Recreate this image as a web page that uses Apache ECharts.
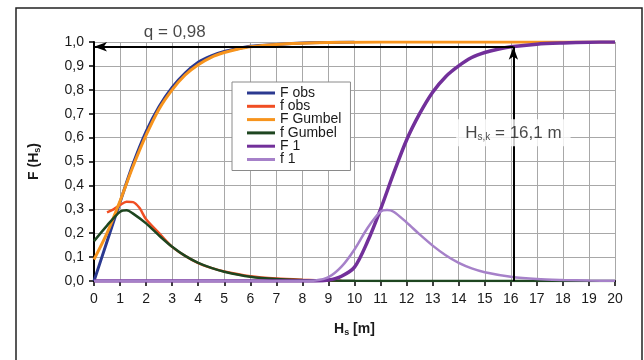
<!DOCTYPE html>
<html>
<head>
<meta charset="utf-8">
<script src="https://cdn.jsdelivr.net/npm/echarts@6/dist/echarts.min.js"></script>
<style>
  html, body { margin: 0; padding: 0; background: #ffffff; }
  #chart { width: 644px; height: 360px; }
</style>
</head>
<body>
<div id="chart"></div>
<script>
// Wave height H_s [m] and distribution values for each curve
const hObs  = [0, 0.5, 1, 1.5, 2, 2.5, 3, 3.5, 4, 4.5, 5, 5.5, 6, 7, 8, 9, 10];
const FObs  = [0, 0.165, 0.33, 0.49, 0.625, 0.73, 0.81, 0.87, 0.915, 0.942, 0.96, 0.972, 0.982, 0.99, 0.996, 0.998, 1.0];

const hObsPdf = [0.5, 0.75, 1, 1.25, 1.5, 1.75, 2, 2.5, 3, 3.5, 4, 4.5, 5, 6, 7, 8, 9, 9.5];
const fObs    = [0.287, 0.3, 0.318, 0.332, 0.33, 0.305, 0.258, 0.2, 0.143, 0.105, 0.075, 0.055, 0.04, 0.02, 0.01, 0.005, 0.002, 0.001];

const hGum = [0, 0.5, 1, 1.5, 2, 2.5, 3, 3.5, 4, 4.5, 5, 5.5, 6, 7, 8, 9, 10, 12, 14, 16, 18, 20];
const FGum = [0.09, 0.2, 0.335, 0.48, 0.61, 0.72, 0.8, 0.862, 0.905, 0.936, 0.956, 0.97, 0.98, 0.99, 0.995, 0.998, 0.999, 1, 1, 1, 1, 1];

const hGumPdf = [0, 0.5, 1, 1.25, 1.5, 2, 2.5, 3, 3.5, 4, 4.5, 5, 6, 7, 8, 9, 10, 12, 14, 16, 18, 20];
const fGum    = [0.167, 0.232, 0.29, 0.296, 0.282, 0.241, 0.19, 0.143, 0.105, 0.076, 0.055, 0.039, 0.018, 0.008, 0.004, 0.002, 0.001, 0, 0, 0, 0, 0];

const h1 = [0, 2, 4, 6, 8, 8.5, 9, 9.5, 10, 10.5, 11, 11.5, 12, 12.5, 13, 13.5, 14, 14.5, 15, 15.5, 16, 17, 18, 19, 20];
const F1 = [0, 0, 0, 0, 0, 0, 0.004, 0.02, 0.058, 0.165, 0.3, 0.45, 0.59, 0.7, 0.79, 0.855, 0.9, 0.935, 0.956, 0.97, 0.98, 0.991, 0.996, 0.999, 1.0];

const h1Pdf = [0, 2, 4, 6, 8, 8.5, 9, 9.5, 10, 10.5, 11, 11.25, 11.5, 12, 12.5, 13, 13.5, 14, 14.5, 15, 16, 17, 18, 19, 20];
const f1    = [0, 0, 0, 0, 0, 0.002, 0.016, 0.06, 0.132, 0.222, 0.29, 0.297, 0.29, 0.245, 0.195, 0.148, 0.108, 0.076, 0.053, 0.037, 0.018, 0.008, 0.004, 0.002, 0.001];

const qLevel = 0.98;
const hsk = 16.1;

const legendNames = ['F obs', 'f obs', 'F Gumbel', 'f Gumbel', 'F 1', 'f 1'];
const colors = ['#2b3990', '#f04e23', '#f7941d', '#1e4620', '#72309a', '#a681c9'];

const zip = (xs, ys) => xs.map((x, i) => [x, ys[i]]);
const comma = (v, d) => v.toFixed(d).replace('.', ',');

function curve(name, xs, ys, color, width) {
  return {
    name: name,
    type: 'line',
    data: zip(xs, ys),
    smooth: 0.3,
    symbol: 'none',
    showSymbol: false,
    clip: true,
    lineStyle: { color: color, width: width },
    itemStyle: { color: color },
    emphasis: { disabled: true }
  };
}

const fontFamily = '"Liberation Sans", Arial, sans-serif';

const chart = echarts.init(document.getElementById('chart'), null, { renderer: 'canvas' });

chart.setOption({
  animation: false,
  backgroundColor: '#ffffff',
  textStyle: { fontFamily: fontFamily },
  grid: { left: 94, right: 29, top: 42, bottom: 79 },
  legend: {
    data: legendNames.map(n => ({ name: n, icon: 'rect' })),
    orient: 'vertical',
    left: 232,
    top: 82,
    padding: [4, 9, 4, 15],
    itemWidth: 28,
    itemHeight: 3,
    itemGap: -0.7,
    backgroundColor: '#ffffff',
    borderColor: '#8a8a8a',
    borderWidth: 1,
    textStyle: { fontSize: 14, lineHeight: 13, color: '#1a1a1a', fontFamily: fontFamily }
  },
  xAxis: {
    type: 'value',
    min: 0,
    max: 20,
    interval: 1,
    name: '{b|H}{sub|s}{b| [m]}',
    nameLocation: 'middle',
    nameGap: 40,
    nameTextStyle: {
      rich: {
        b: { fontSize: 14, fontWeight: 'bold', color: '#1a1a1a', fontFamily: fontFamily },
        sub: { fontSize: 9, fontWeight: 'bold', color: '#1a1a1a', fontFamily: fontFamily, padding: [7, 0, 0, 0] }
      }
    },
    axisLine: { show: true, onZero: false, lineStyle: { color: '#000', width: 2 } },
    axisTick: { show: true, inside: false, length: 5, lineStyle: { color: '#000', width: 1.5 } },
    axisLabel: { fontSize: 14, color: '#1a1a1a', margin: 11, fontFamily: fontFamily },
    splitLine: { show: true, lineStyle: { color: '#a8a8a8', width: 1 } }
  },
  yAxis: {
    type: 'value',
    min: 0,
    max: 1,
    interval: 0.1,
    name: '{b|F (H}{sub|s}{b|)}',
    nameLocation: 'middle',
    nameGap: 52,
    nameRotate: 90,
    nameTextStyle: {
      rich: {
        b: { fontSize: 14, fontWeight: 'bold', color: '#1a1a1a', fontFamily: fontFamily },
        sub: { fontSize: 9, fontWeight: 'bold', color: '#1a1a1a', fontFamily: fontFamily, padding: [7, 0, 0, 0] }
      }
    },
    axisLine: { show: true, onZero: false, lineStyle: { color: '#000', width: 2 } },
    axisTick: { show: true, inside: false, length: 5, lineStyle: { color: '#000', width: 1.5 } },
    axisLabel: { fontSize: 14, color: '#1a1a1a', margin: 10, fontFamily: fontFamily, formatter: v => comma(v, 1) },
    splitLine: { show: true, lineStyle: { color: '#a8a8a8', width: 1 } }
  },
  graphic: [{
    type: 'rect',
    silent: true,
    shape: { x: 16, y: 8, width: 626, height: 400 },
    style: { fill: 'none', stroke: '#222', lineWidth: 1.5 }
  }],
  series: [
    curve('F obs', hObs, FObs, colors[0], 3),
    curve('f obs', hObsPdf, fObs, colors[1], 2.5),
    curve('F Gumbel', hGum, FGum, colors[2], 3),
    curve('f Gumbel', hGumPdf, fGum, colors[3], 2.5),
    curve('F 1', h1, F1, colors[4], 3.5),
    curve('f 1', h1Pdf, f1, colors[5], 2.5),
    {
      // quantile arrows: F 1 = q at H_s,k
      name: 'arrows',
      type: 'line',
      data: [],
      silent: true,
      markLine: {
        silent: true,
        animation: false,
        symbol: ['none', 'arrow'],
        symbolSize: [7, 13],
        label: { show: false },
        lineStyle: { color: '#000', width: 2, type: 'solid' },
        emphasis: { disabled: true },
        data: [
          [{ coord: [hsk, qLevel] }, { coord: [0, qLevel] }],
          [{ coord: [hsk, 0] }, { coord: [hsk, qLevel] }]
        ]
      }
    },
    {
      name: 'labels',
      type: 'scatter',
      clip: false,
      silent: true,
      z: 10,
      symbolSize: 0,
      data: [
        { value: [3.1, 1.042], label: { formatter: 'q = ' + comma(qLevel, 2) } },
        { value: [hsk, 0.62], label: {
            formatter: '{t|H}{sub|s,k}{t| = ' + comma(hsk, 1) + ' m}',
            backgroundColor: '#ffffff',
            padding: [5, 9, 4, 9]
          } }
      ],
      label: {
        show: true,
        position: 'inside',
        fontSize: 17,
        color: '#1a1a1a',
        fontFamily: fontFamily,
        rich: {
          t: { fontSize: 17, color: '#1a1a1a', fontFamily: fontFamily },
          sub: { fontSize: 10, color: '#1a1a1a', fontFamily: fontFamily, padding: [8, 0, 0, 0] }
        }
      }
    }
  ]
});
</script>
</body>
</html>
